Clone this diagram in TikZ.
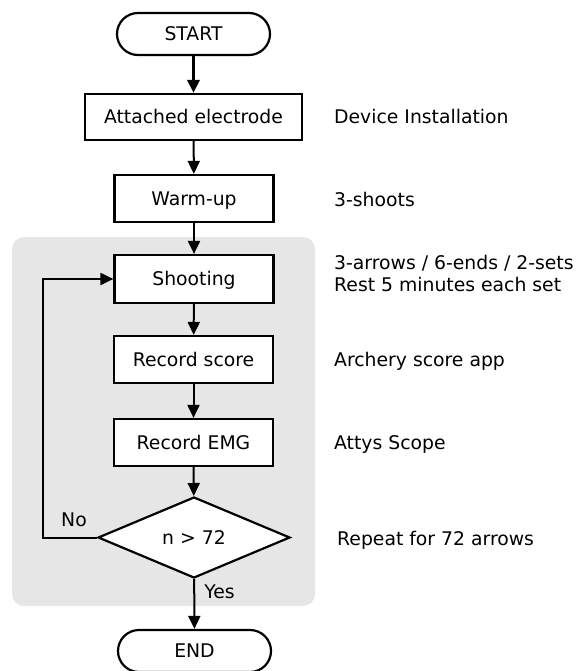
\documentclass[tikz,border=0pt]{standalone}
\usepackage{fontspec}
\setmainfont{DejaVu Sans}
\usetikzlibrary{shapes.geometric, arrows.meta}

\definecolor{panelgray}{HTML}{E6E6E6}

\tikzset{
  every node/.style={font=\fontsize{18.8}{22}\selectfont},
  stepbox/.style={rectangle, draw, fill=white, line width=2.2pt, minimum width=159pt, minimum height=47pt, text height=13.7pt, text depth=0pt, inner sep=0pt},
  termbox/.style={rectangle, draw, fill=white, rounded corners=21pt, line width=2.2pt, minimum width=153pt, minimum height=42pt, text height=13.7pt, text depth=0pt, inner sep=0pt},
  decision/.style={diamond, draw, fill=white, line width=2.2pt, minimum width=192pt, minimum height=81pt, text height=13.7pt, text depth=0pt, inner sep=0pt},
  note/.style={anchor=west, text height=13.7pt, text depth=0pt, inner sep=0pt},
  flow/.style={line width=2pt, -{Triangle[length=13pt,width=12pt]}},
}

\begin{document}
\begin{tikzpicture}[x=1pt, y=-1pt]
\useasboundingbox (0,0) rectangle (578,671);

% loop panel
\fill [panelgray, rounded corners=12pt] (12,237) rectangle (315,606);

%%%  nodes

% terminal nodes
\node [termbox] (start) at (193.5, 34) {START};
\node [termbox] (end) at (194.5, 651) {END};

% step nodes
\node [stepbox, minimum width=217pt, minimum height=46pt] (electrode) at (193.5, 117) {Attached electrode};
\node [stepbox] (warmup) at (194, 198.5) {Warm-up};
\node [stepbox, minimum height=48pt] (shooting) at (194, 279) {Shooting};
\node [stepbox] (score) at (193.5, 359.5) {Record score};
\node [stepbox] (emg) at (193.5, 442.5) {Record EMG};
\node [decision] (check) at (194, 537.5) {n > 72};

% corner of the loop
\coordinate (loopturn) at (43, 537.5);

% branch label nodes
\node [text height=13.7pt, text depth=0pt] (no) at (74, 520) {No};
\node [text height=13.7pt, text depth=0pt] (yes) at (219.5, 591.5) {Yes};

% note nodes
\node [note] (install) at (334, 117) {Device Installation};
\node [note] (shoots) at (334, 200) {3-shoots};
\node [note, text height=, text depth=, align=left] (sets) at (334, 273) {3-arrows / 6-ends / 2-sets\\Rest 5 minutes each set};
\node [note] (app) at (334, 360) {Archery score app};
\node [note] (scope) at (334, 443) {Attys Scope};
\node [note] (repeat) at (337, 539) {Repeat for 72 arrows};

%%% edges

% main flow
\draw [flow, line width=3.5pt] (start) -- (electrode);
\draw [flow] (electrode) -- (warmup);
\draw [flow] (warmup) -- (shooting);
\draw [flow] (shooting) -- (score);
\draw [flow] (score) -- (emg);
\draw [flow] (emg) -- (check);
\draw [flow] (check) -- (end);

% repeat loop
\draw [flow] (check.west) -- (loopturn) |- (shooting.west);
\end{tikzpicture}
\end{document}
